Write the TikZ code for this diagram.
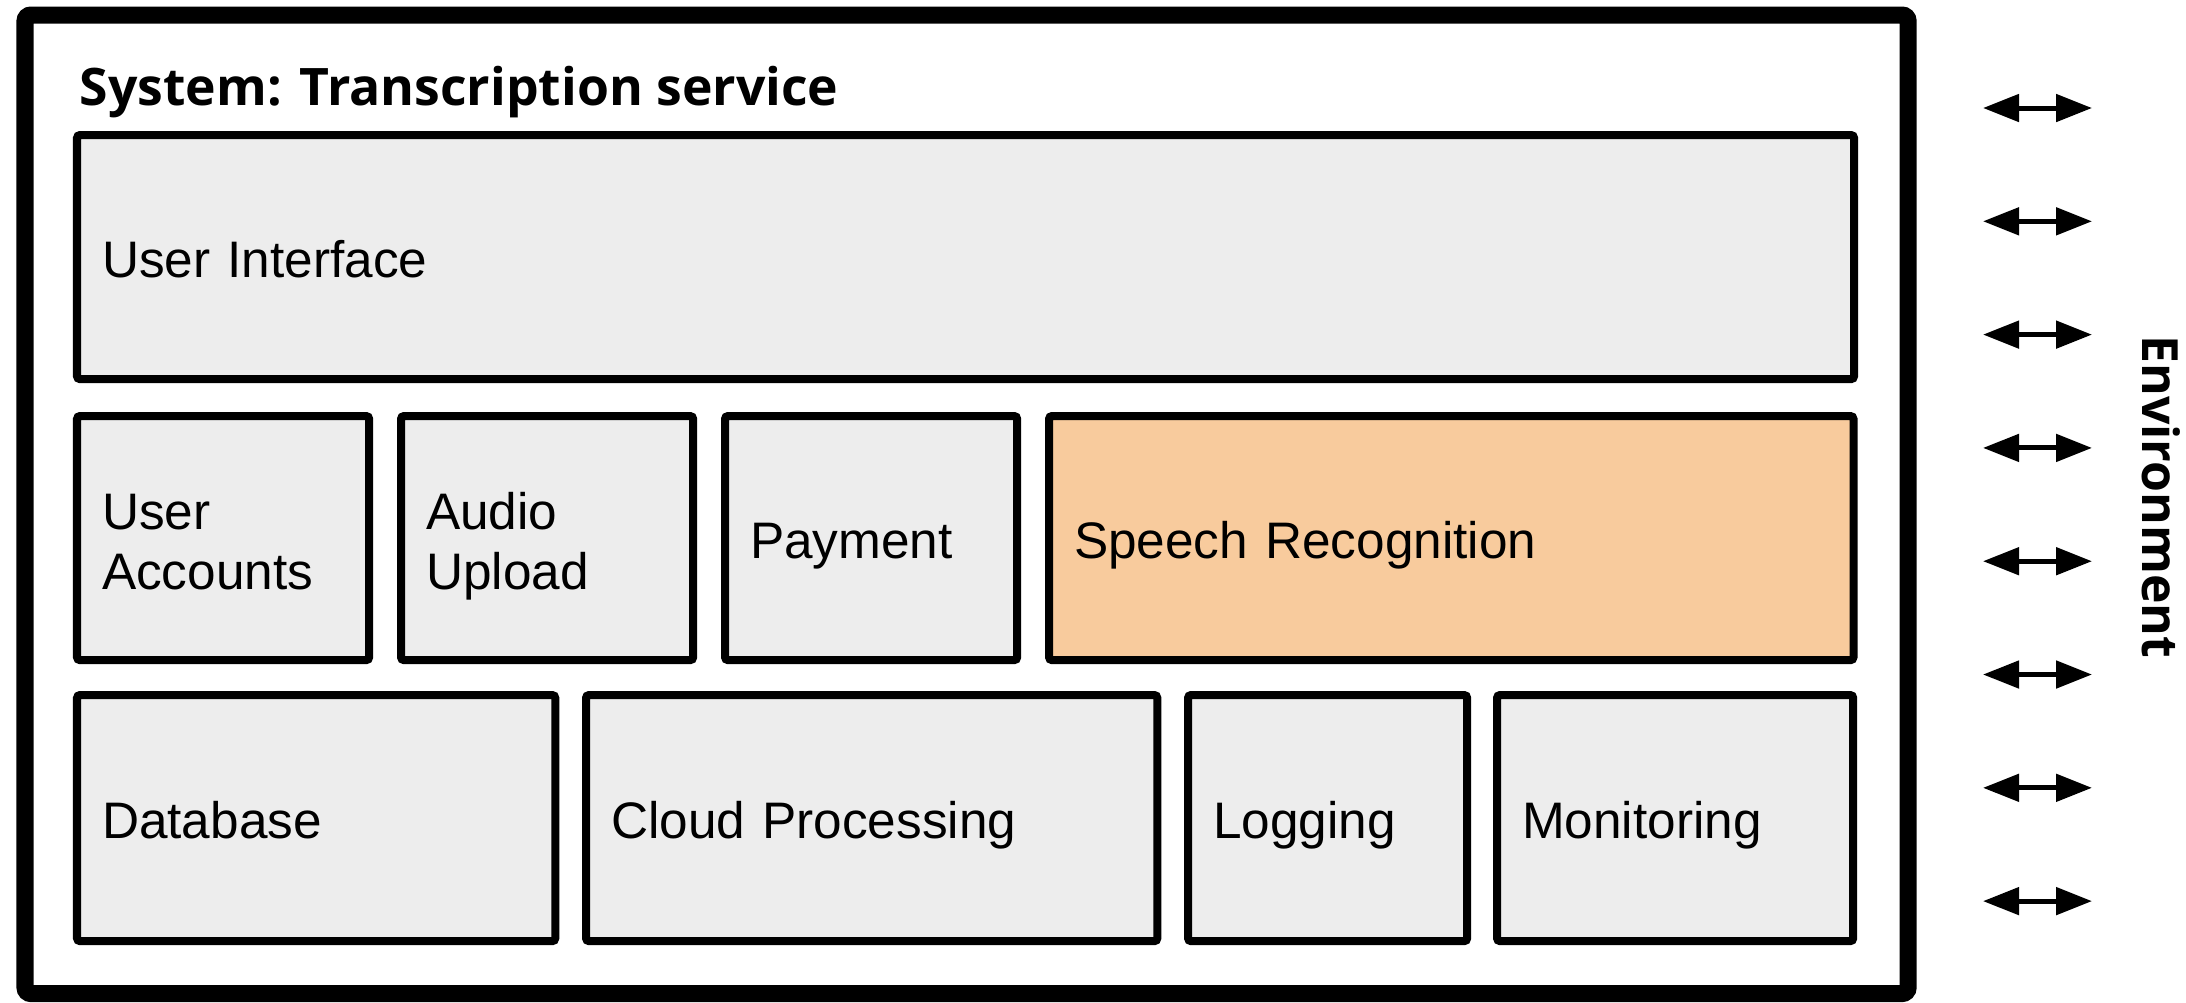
\documentclass[tikz,border=0pt]{standalone}
\usepackage{fontspec}
\setmainfont{Liberation Sans}
\newfontfamily\headfont{Open Sans}
\definecolor{blockgrey}{RGB}{237,237,237}
\definecolor{speechorange}{RGB}{248,203,157}
\usetikzlibrary{arrows.meta,positioning}
\tikzstyle{block}=[draw=black,line width=0.08cm,fill=blockgrey,rounded corners=0.03cm,anchor=north west,inner xsep=0.25cm,inner ysep=0pt,outer sep=0pt,align=left,font=\fontsize{14.6}{17.1}\selectfont]
\tikzstyle{flatblock}=[block,text height=0.41cm,text depth=0pt]
\tikzstyle{tallblock}=[block,text height=0.41cm,text depth=0.585cm]
\tikzstyle{headtext}=[inner sep=0pt,font=\headfont\bfseries\fontsize{14.7}{17}\selectfont]
\tikzstyle{envedge}=[{Triangle[length=0.36cm,width=0.27cm]}-{Triangle[length=0.36cm,width=0.27cm]},line width=0.05cm]

\begin{document}
\begin{tikzpicture}[x=0.01cm,y=-0.01cm]
\def\rowone{135}
\def\rowtwo{416}
\def\rowthree{695}
\def\armsep{113.3}

    \useasboundingbox (0,0) rectangle (2186,1002);

    % outer frame of the system
    \node[draw=black,line width=0.17cm,rounded corners=0.06cm,anchor=north west,inner sep=0pt,outer sep=0pt,
        minimum width=18.82cm,minimum height=9.78cm] (system) at (25,15) {};
    \node[headtext,anchor=base west] (title) at (79,105) {System: Transcription service};

    % top row
    \node[flatblock,text width=17.26cm,minimum height=2.44cm] (ui) at (77,\rowone) {User Interface};

    % middle row
    \node[tallblock,text width=2.42cm,minimum height=2.44cm] (accounts) at (77,\rowtwo) {User\\Accounts};
    \node[tallblock,text width=2.42cm,minimum height=2.44cm] (upload) at (401,\rowtwo) {Audio\\Upload};
    \node[flatblock,text width=2.42cm,minimum height=2.44cm] (payment) at (725,\rowtwo) {Payment};
    \node[flatblock,fill=speechorange,text width=7.54cm,minimum height=2.44cm] (speech) at (1049,\rowtwo) {Speech Recognition};

    % bottom row
    \node[flatblock,text width=4.28cm,minimum height=2.46cm] (database) at (77,\rowthree) {Database};
    \node[flatblock,text width=5.21cm,minimum height=2.46cm] (cloud) at (586,\rowthree) {Cloud Processing};
    \node[flatblock,text width=2.29cm,minimum height=2.46cm] (logging) at (1188,\rowthree) {Logging};
    \node[flatblock,text width=3.06cm,minimum height=2.46cm] (monitoring) at (1497,\rowthree) {Monitoring};

    % exchange with the environment
    \foreach \i in {0,...,7} {
        \coordinate (envL-\i) at (1983,108+\armsep*\i);
        \coordinate (envR-\i) at (2092,108+\armsep*\i);
        \draw[envedge] (envL-\i) -- (envR-\i);
    }

    \node[headtext,rotate=-90,font=\headfont\bfseries\fontsize{14.2}{17}\selectfont] (env) at (2161,497) {Environment};
\end{tikzpicture}
\end{document}
